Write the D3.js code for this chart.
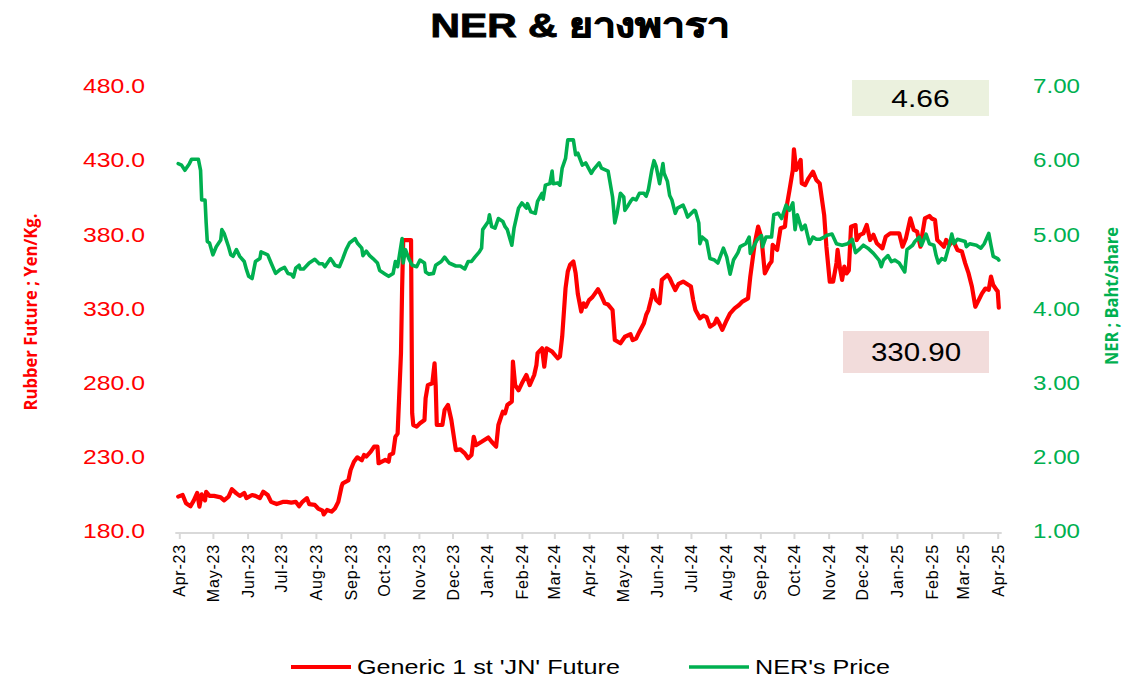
<!DOCTYPE html>
<html>
<head>
<meta charset="utf-8">
<script src="https://cdn.jsdelivr.net/npm/d3@7"></script>
<style>
  html, body { margin: 0; padding: 0; background: #ffffff; }
  svg { display: block; }
</style>
</head>
<body>
<svg id="chart" width="1140" height="680"></svg>
<script>
// ---------------- DATA ----------------
const chartTitle = "NER & ยางพารา";
const leftAxisTitle = "Rubber Future ; Yen/Kg.";
const rightAxisTitle = "NER ; Baht/share";
const leftTicks = [180, 230, 280, 330, 380, 430, 480];
const rightTicks = [1, 2, 3, 4, 5, 6, 7];
const monthTicks = ["2023-04-01","2023-05-01","2023-06-01","2023-07-01","2023-08-01","2023-09-01","2023-10-01","2023-11-01","2023-12-01","2024-01-01","2024-02-01","2024-03-01","2024-04-01","2024-05-01","2024-06-01","2024-07-01","2024-08-01","2024-09-01","2024-10-01","2024-11-01","2024-12-01","2025-01-01","2025-02-01","2025-03-01","2025-04-01"];
const seriesNames = ["Generic 1 st 'JN' Future", "NER's Price"];
const lastNer = 4.66;
const lastRubber = 330.90;

// Generic 1st 'JN' Future (Yen/Kg)
const rubber = [["2023-03-31",203.5],["2023-04-04",204.6],["2023-04-07",199],["2023-04-11",197],["2023-04-14",201],["2023-04-17",206],["2023-04-19",196.7],["2023-04-21",205],["2023-04-24",201],["2023-04-25",206.8],["2023-04-28",204],["2023-05-02",204],["2023-05-08",203],["2023-05-11",201],["2023-05-15",203.5],["2023-05-18",208.5],["2023-05-22",205.7],["2023-05-25",204],["2023-05-29",206],["2023-05-31",202.5],["2023-06-05",204.6],["2023-06-08",204],["2023-06-12",202.5],["2023-06-15",206.8],["2023-06-19",204.6],["2023-06-22",200],["2023-06-27",198.5],["2023-07-03",200],["2023-07-06",200],["2023-07-10",199.5],["2023-07-14",200],["2023-07-17",197],["2023-07-20",200],["2023-07-24",202.5],["2023-07-26",198.5],["2023-07-31",198],["2023-08-03",195.5],["2023-08-07",194],["2023-08-08",191.5],["2023-08-11",194.5],["2023-08-15",193.4],["2023-08-18",195.5],["2023-08-21",200],["2023-08-24",210.5],["2023-08-25",212.5],["2023-08-30",214.4],["2023-09-01",221.5],["2023-09-04",227],["2023-09-07",230],["2023-09-11",228],["2023-09-13",231.6],["2023-09-15",230.5],["2023-09-19",233.8],["2023-09-22",237.2],["2023-09-25",237.2],["2023-09-26",226],["2023-10-02",228.3],["2023-10-05",227],["2023-10-06",231.6],["2023-10-09",232.7],["2023-10-11",243.8],["2023-10-13",246],["2023-10-16",300],["2023-10-17",343],["2023-10-18",376.5],["2023-10-25",376.5],["2023-10-26",259.7],["2023-10-27",251.8],["2023-10-30",250.7],["2023-11-02",253],["2023-11-06",255.2],["2023-11-07",269.8],["2023-11-09",278.7],["2023-11-13",279.9],["2023-11-15",293.4],["2023-11-16",278.7],["2023-11-17",251.8],["2023-11-22",251.8],["2023-11-24",262],["2023-11-27",265.3],["2023-11-30",255.2],["2023-12-04",234.9],["2023-12-08",235.4],["2023-12-12",232.7],["2023-12-15",229.4],["2023-12-18",231.6],["2023-12-20",243.8],["2023-12-22",238.2],["2023-12-27",240.5],["2024-01-02",243.4],["2024-01-05",240.5],["2024-01-09",237.2],["2024-01-11",251.8],["2024-01-15",260.8],["2024-01-17",259.7],["2024-01-19",265.3],["2024-01-23",267.6],["2024-01-24",294.5],["2024-01-26",278.7],["2024-01-29",275.2],["2024-02-01",279.9],["2024-02-05",285.5],["2024-02-06",283.3],["2024-02-08",278.7],["2024-02-12",285.5],["2024-02-14",292.3],["2024-02-15",300.2],["2024-02-19",303.5],["2024-02-21",291.1],["2024-02-23",303.5],["2024-02-28",301.3],["2024-03-04",296.8],["2024-03-06",297.9],["2024-03-08",311.4],["2024-03-11",344],["2024-03-13",355.3],["2024-03-15",359.8],["2024-03-18",362],["2024-03-20",354.2],["2024-03-22",340],["2024-03-25",328.3],["2024-03-27",333.8],["2024-03-29",331.5],["2024-04-01",336],["2024-04-04",338],["2024-04-09",343.3],["2024-04-11",340.5],["2024-04-15",333.8],["2024-04-18",333],["2024-04-22",329.3],["2024-04-24",309.1],["2024-04-29",306.9],["2024-05-03",311.3],["2024-05-08",313],["2024-05-10",309],["2024-05-13",310],["2024-05-16",314.7],["2024-05-20",320.4],["2024-05-22",326],["2024-05-24",329.3],["2024-05-27",338.3],["2024-05-28",342.8],["2024-05-31",336],["2024-06-03",333.8],["2024-06-05",349.6],["2024-06-10",352.9],["2024-06-12",350.8],["2024-06-14",347.4],["2024-06-17",342.8],["2024-06-20",347],["2024-06-24",348.5],["2024-07-01",345.1],["2024-07-03",336],["2024-07-05",329.3],["2024-07-09",323.7],["2024-07-12",325.5],["2024-07-15",324.5],["2024-07-18",318.1],["2024-07-22",320],["2024-07-24",323.5],["2024-07-26",320.9],["2024-07-29",316],["2024-08-02",322.6],["2024-08-05",327.1],["2024-08-09",330.4],["2024-08-13",332.7],["2024-08-16",335],["2024-08-21",337.2],["2024-08-23",351.8],["2024-08-27",374.3],["2024-08-30",385.5],["2024-09-02",378],["2024-09-05",354],["2024-09-09",360],["2024-09-11",362],["2024-09-12",373.2],["2024-09-16",369.8],["2024-09-19",384.4],["2024-09-23",385.5],["2024-09-25",401.3],["2024-09-27",410],["2024-09-30",423.7],["2024-10-01",437.7],["2024-10-03",423.7],["2024-10-07",430.5],["2024-10-08",414.7],["2024-10-11",413.6],["2024-10-14",418.1],["2024-10-18",422.6],["2024-10-21",417],["2024-10-24",414.7],["2024-10-28",393.4],["2024-10-30",372],["2024-11-02",348.4],["2024-11-05",348.4],["2024-11-08",361],["2024-11-09",369.8],["2024-11-11",358],["2024-11-13",349.6],["2024-11-15",358.6],["2024-11-17",354],["2024-11-19",356],["2024-11-21",385.5],["2024-11-25",386.6],["2024-11-26",376.5],["2024-11-29",380],["2024-12-02",381],["2024-12-05",386.6],["2024-12-08",376.5],["2024-12-11",380],["2024-12-14",374.3],["2024-12-19",370.9],["2024-12-22",378.8],["2024-12-26",381],["2025-01-03",381],["2025-01-06",372],["2025-01-09",377.6],["2025-01-13",391.1],["2025-01-16",383.3],["2025-01-19",382.2],["2025-01-22",372],["2025-01-24",382],["2025-01-26",391.1],["2025-01-30",392.7],["2025-02-01",391],["2025-02-04",390],["2025-02-06",376.5],["2025-02-09",374.3],["2025-02-12",372],["2025-02-14",376.5],["2025-02-17",373.2],["2025-02-20",376.5],["2025-02-24",369.8],["2025-02-28",368.7],["2025-03-03",360.8],["2025-03-06",354],["2025-03-09",345],["2025-03-12",331.5],["2025-03-15",336],["2025-03-18",340.5],["2025-03-21",343.8],["2025-03-24",343],["2025-03-26",351.8],["2025-03-28",346.2],["2025-03-31",342.8],["2025-04-01",342],["2025-04-02",330.9]];

// NER's Price (Baht/share)
const ner = [["2023-03-31",5.96],["2023-04-03",5.94],["2023-04-06",5.87],["2023-04-10",5.96],["2023-04-12",6.02],["2023-04-18",6.02],["2023-04-20",5.87],["2023-04-21",5.47],["2023-04-24",5.47],["2023-04-25",5.16],["2023-04-26",4.91],["2023-04-28",4.89],["2023-05-01",4.73],["2023-05-04",4.84],["2023-05-08",4.93],["2023-05-09",5.07],["2023-05-11",5.02],["2023-05-15",4.84],["2023-05-17",4.73],["2023-05-19",4.71],["2023-05-22",4.80],["2023-05-25",4.71],["2023-05-29",4.64],["2023-05-31",4.53],["2023-06-02",4.44],["2023-06-05",4.41],["2023-06-08",4.64],["2023-06-12",4.68],["2023-06-13",4.77],["2023-06-16",4.75],["2023-06-19",4.73],["2023-06-22",4.62],["2023-06-26",4.48],["2023-06-30",4.53],["2023-07-04",4.56],["2023-07-07",4.48],["2023-07-10",4.47],["2023-07-12",4.43],["2023-07-14",4.55],["2023-07-17",4.59],["2023-07-18",4.54],["2023-07-21",4.54],["2023-07-26",4.62],["2023-07-31",4.67],["2023-08-04",4.61],["2023-08-07",4.61],["2023-08-09",4.57],["2023-08-14",4.68],["2023-08-16",4.64],["2023-08-18",4.59],["2023-08-22",4.57],["2023-08-25",4.68],["2023-08-28",4.80],["2023-08-31",4.89],["2023-09-05",4.95],["2023-09-07",4.89],["2023-09-11",4.82],["2023-09-12",4.72],["2023-09-15",4.78],["2023-09-18",4.72],["2023-09-21",4.68],["2023-09-25",4.62],["2023-09-27",4.52],["2023-09-29",4.50],["2023-10-02",4.47],["2023-10-05",4.44],["2023-10-09",4.48],["2023-10-11",4.64],["2023-10-13",4.57],["2023-10-17",4.95],["2023-10-18",4.62],["2023-10-20",4.80],["2023-10-23",4.68],["2023-10-26",4.59],["2023-10-30",4.57],["2023-11-02",4.66],["2023-11-06",4.62],["2023-11-07",4.50],["2023-11-10",4.47],["2023-11-14",4.48],["2023-11-16",4.59],["2023-11-21",4.64],["2023-11-24",4.70],["2023-11-28",4.62],["2023-12-04",4.58],["2023-12-08",4.58],["2023-12-12",4.54],["2023-12-15",4.64],["2023-12-18",4.64],["2023-12-21",4.70],["2023-12-25",4.77],["2023-12-27",4.82],["2023-12-28",5.07],["2024-01-02",5.18],["2024-01-03",5.27],["2024-01-05",5.11],["2024-01-08",5.09],["2024-01-11",5.22],["2024-01-15",5.18],["2024-01-17",5.11],["2024-01-19",5.07],["2024-01-23",4.86],["2024-01-25",5.09],["2024-01-29",5.36],["2024-02-01",5.43],["2024-02-05",5.36],["2024-02-06",5.42],["2024-02-09",5.31],["2024-02-13",5.29],["2024-02-15",5.45],["2024-02-19",5.56],["2024-02-20",5.48],["2024-02-22",5.67],["2024-02-26",5.69],["2024-02-28",5.86],["2024-02-29",5.69],["2024-03-04",5.70],["2024-03-06",5.67],["2024-03-08",5.90],["2024-03-11",6.03],["2024-03-13",6.28],["2024-03-18",6.28],["2024-03-20",6.08],["2024-03-22",6.10],["2024-03-26",5.94],["2024-03-29",5.97],["2024-04-03",5.83],["2024-04-05",5.88],["2024-04-10",5.97],["2024-04-12",5.90],["2024-04-18",5.86],["2024-04-22",5.51],["2024-04-24",5.16],["2024-04-26",5.29],["2024-04-29",5.56],["2024-05-02",5.51],["2024-05-03",5.33],["2024-05-06",5.40],["2024-05-08",5.45],["2024-05-10",5.49],["2024-05-13",5.47],["2024-05-16",5.56],["2024-05-20",5.56],["2024-05-22",5.52],["2024-05-24",5.61],["2024-05-27",5.87],["2024-05-29",6.00],["2024-05-31",5.92],["2024-06-03",5.69],["2024-06-06",5.96],["2024-06-07",5.83],["2024-06-10",5.72],["2024-06-12",5.53],["2024-06-14",5.47],["2024-06-17",5.29],["2024-06-19",5.36],["2024-06-24",5.40],["2024-06-26",5.33],["2024-06-28",5.24],["2024-07-04",5.33],["2024-07-05",5.32],["2024-07-08",5.16],["2024-07-09",4.88],["2024-07-11",4.97],["2024-07-15",4.92],["2024-07-18",4.68],["2024-07-22",4.66],["2024-07-25",4.62],["2024-07-30",4.82],["2024-08-02",4.70],["2024-08-05",4.47],["2024-08-08",4.66],["2024-08-12",4.76],["2024-08-14",4.84],["2024-08-19",4.88],["2024-08-22",4.97],["2024-08-23",4.75],["2024-08-26",4.84],["2024-08-29",4.93],["2024-09-02",4.99],["2024-09-03",4.84],["2024-09-06",4.97],["2024-09-11",4.97],["2024-09-13",5.27],["2024-09-17",5.29],["2024-09-20",5.22],["2024-09-24",5.40],["2024-09-27",5.33],["2024-09-30",5.43],["2024-10-02",5.07],["2024-10-04",5.27],["2024-10-08",5.07],["2024-10-11",5.13],["2024-10-15",4.88],["2024-10-18",4.97],["2024-10-21",4.94],["2024-10-24",4.94],["2024-10-28",4.97],["2024-10-30",4.99],["2024-11-04",5.01],["2024-11-08",4.88],["2024-11-13",4.86],["2024-11-18",4.88],["2024-11-22",4.94],["2024-11-25",4.76],["2024-11-28",4.80],["2024-12-02",4.86],["2024-12-06",4.82],["2024-12-11",4.75],["2024-12-16",4.66],["2024-12-18",4.57],["2024-12-20",4.66],["2024-12-24",4.72],["2024-12-27",4.64],["2024-12-30",4.66],["2025-01-03",4.62],["2025-01-08",4.50],["2025-01-10",4.80],["2025-01-15",4.86],["2025-01-17",4.91],["2025-01-21",4.97],["2025-01-23",4.86],["2025-01-27",5.01],["2025-01-30",4.88],["2025-02-03",4.86],["2025-02-05",4.72],["2025-02-07",4.62],["2025-02-10",4.68],["2025-02-13",4.66],["2025-02-17",4.88],["2025-02-19",5.01],["2025-02-21",4.88],["2025-02-24",4.94],["2025-03-03",4.91],["2025-03-04",4.84],["2025-03-07",4.88],["2025-03-13",4.86],["2025-03-17",4.82],["2025-03-20",4.88],["2025-03-24",5.02],["2025-03-26",4.86],["2025-03-28",4.71],["2025-04-01",4.68],["2025-04-02",4.66]];

// ---------------- CHART ----------------
const RED = "#ff0000", GREEN = "#00b050";
const FONT = "'Liberation Sans', Arial, sans-serif";
const parse = d3.utcParse("%Y-%m-%d");
const svg = d3.select("#chart");

const x = d3.scaleUtc()
  .domain([parse("2023-04-01"), parse("2025-04-01")])
  .range([179.3, 997.7]);
const yL = d3.scaleLinear().domain([180, 480]).range([531.5, 86.5]);
const yR = d3.scaleLinear().domain([1, 7]).range([531.5, 86.5]);

// Title (horizontally widened like the reference)
svg.append("text")
  .attr("transform", "translate(580,37) scale(1.2,1)")
  .attr("text-anchor", "middle")
  .attr("font-family", FONT)
  .attr("font-weight", "bold")
  .attr("font-size", 34)
  .attr("stroke", "#000").attr("stroke-width", 0.9)
  .attr("fill", "#000")
  .text(chartTitle);

// X axis
const xAxis = d3.axisBottom(x)
  .tickValues(monthTicks.map(parse))
  .tickFormat(d3.utcFormat("%b-%y"))
  .tickSize(6)
  .tickSizeOuter(0);
const gx = svg.append("g").attr("transform", "translate(0,533)").call(xAxis);
gx.select(".domain").attr("stroke", "#d9d9d9").attr("stroke-width", 2)
  .attr("d", `M${x.range()[0] - 4},0H${x.range()[1] + 4}`);
gx.selectAll(".tick line").attr("stroke", "#d9d9d9").attr("stroke-width", 2);
gx.selectAll(".tick text")
  .attr("font-family", FONT)
  .attr("font-size", 16)
  .attr("letter-spacing", 0.8)
  .attr("fill", "#000")
  .attr("text-anchor", "end")
  .attr("transform", "rotate(-90)")
  .attr("x", -11).attr("y", 0).attr("dy", "0.35em");

// Left axis
const gl = svg.append("g").attr("transform", "translate(150,0)")
  .call(d3.axisLeft(yL).tickValues(leftTicks).tickFormat(d3.format(".1f")).tickSize(0));
gl.select(".domain").remove();
gl.selectAll(".tick text")
  .attr("font-family", FONT).attr("font-size", 19.5)
  .attr("fill", RED).attr("x", 0)
  .attr("transform", "translate(-5,0) scale(1.27,1)");

// Right axis
const gr = svg.append("g").attr("transform", "translate(1030,0)")
  .call(d3.axisRight(yR).tickValues(rightTicks).tickFormat(d3.format(".2f")).tickSize(0));
gr.select(".domain").remove();
gr.selectAll(".tick text")
  .attr("font-family", FONT).attr("font-size", 19.5)
  .attr("fill", GREEN).attr("x", 0)
  .attr("transform", "translate(3,0) scale(1.24,1)");

// Axis titles
svg.append("text")
  .attr("transform", "translate(37,312) rotate(-90)")
  .attr("text-anchor", "middle")
  .attr("font-family", "'Liberation Sans Narrow', 'Open Sans', sans-serif")
  .attr("font-weight", "bold").attr("font-size", 18)
  .attr("fill", RED)
  .attr("textLength", 197).attr("lengthAdjust", "spacingAndGlyphs")
  .text(leftAxisTitle);
svg.append("text")
  .attr("transform", "translate(1118,296) rotate(-90)")
  .attr("text-anchor", "middle")
  .attr("font-family", "'Liberation Sans Narrow', 'Open Sans', sans-serif")
  .attr("font-weight", "bold").attr("font-size", 18)
  .attr("fill", GREEN)
  .attr("textLength", 138).attr("lengthAdjust", "spacingAndGlyphs")
  .text(rightAxisTitle);

// Lines
const lineL = d3.line().x(d => x(parse(d[0]))).y(d => yL(d[1]));
const lineR = d3.line().x(d => x(parse(d[0]))).y(d => yR(d[1]));

svg.append("path").datum(rubber)
  .attr("d", lineL).attr("fill", "none")
  .attr("stroke", RED).attr("stroke-width", 4.2)
  .attr("stroke-linejoin", "round").attr("stroke-linecap", "round");
svg.append("path").datum(ner)
  .attr("d", lineR).attr("fill", "none")
  .attr("stroke", GREEN).attr("stroke-width", 3.6)
  .attr("stroke-linejoin", "round").attr("stroke-linecap", "round");

// Value boxes
function valueBox(x0, y0, w, h, fill, label, fs, sx) {
  svg.append("rect").attr("x", x0).attr("y", y0).attr("width", w).attr("height", h).attr("fill", fill);
  svg.append("text")
    .attr("transform", `translate(${x0 + w / 2},${y0 + h / 2}) scale(${sx},1)`)
    .attr("dy", "0.36em")
    .attr("text-anchor", "middle").attr("font-family", FONT).attr("font-size", fs)
    .attr("fill", "#000").text(label);
}
valueBox(852, 80, 137, 36, "#ebf1de", d3.format(".2f")(lastNer), 24, 1.25);
valueBox(843, 331, 146, 42, "#f2dcdb", d3.format(".2f")(lastRubber), 25, 1.18);

// Legend
const legend = svg.append("g").attr("font-family", FONT).attr("font-size", 20).attr("fill", "#000");
const legendItems = [
  { name: seriesNames[0], color: RED, x0: 291, w: 4.2 },
  { name: seriesNames[1], color: GREEN, x0: 689, w: 3.6 }
];
legendItems.forEach(it => {
  legend.append("line").attr("x1", it.x0).attr("x2", it.x0 + 60)
    .attr("y1", 667).attr("y2", 667)
    .attr("stroke", it.color).attr("stroke-width", it.w);
  legend.append("text")
    .attr("transform", `translate(${it.x0 + 66},667) scale(1.26,1)`)
    .attr("dy", "0.36em").text(it.name);
});
</script>
</body>
</html>
